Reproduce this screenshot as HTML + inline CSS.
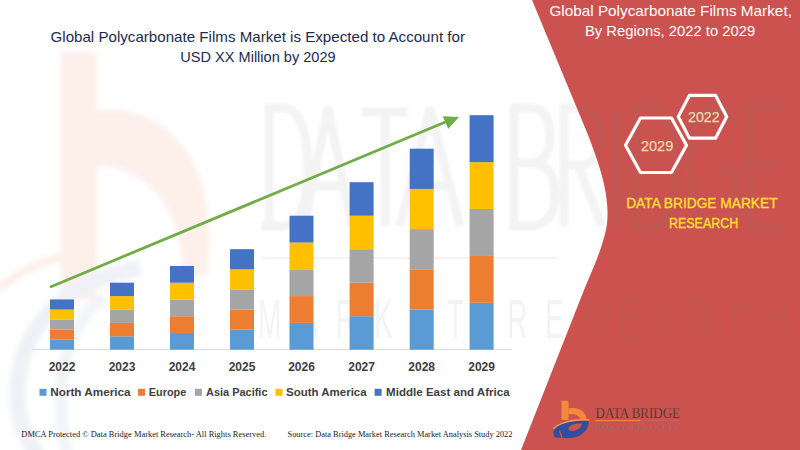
<!DOCTYPE html>
<html><head><meta charset="utf-8"><style>
html,body{margin:0;padding:0;background:#fff;}
#c{position:relative;width:800px;height:450px;overflow:hidden;background:#fff;}
svg{position:absolute;left:0;top:0;}
text{font-family:"Liberation Sans",sans-serif;}
.yr{font-weight:bold;font-size:12px;fill:#404040;}
.lg{font-weight:bold;font-size:11.6px;fill:#404040;}
.ft{font-family:"Liberation Serif",serif;font-size:9px;fill:#1a1a1a;}
</style></head><body><div id="c">
<svg width="800" height="450" viewBox="0 0 800 450">
<!-- watermark logo (left) -->
<defs><filter id="bl1" x="-5%" y="-5%" width="110%" height="110%"><feGaussianBlur stdDeviation="1"/></filter><filter id="bl" x="-20%" y="-20%" width="140%" height="140%"><feGaussianBlur stdDeviation="2.5"/></filter></defs>
<g filter="url(#bl)">
  <path d="M61,52 H97 V300 H61 Z" fill="#FDF0EB"/>
  <path d="M97,110 C160,104 203,150 208,215 C210,240 209,258 208,275 L183,275 C183,215 150,166 97,166 Z" fill="#FDF0EB"/>
  <path d="M140,268 C60,282 12,335 18,405 C20,428 30,445 38,455" fill="none" stroke="#EFF1F6" stroke-width="16"/>
  <path d="M105,298 C70,318 52,375 66,452" fill="none" stroke="#F3F4F8" stroke-width="12"/>
  <path d="M-5,292 C20,270 50,256 95,250" fill="none" stroke="#FDEFE8" stroke-width="8"/>
</g>
<!-- red panel -->
<path d="M532,0 L586,130 C600,165 612,200 606,230 C600,255 590,275 584,290 L521,450 L800,450 L800,0 Z" fill="#CB524E"/>
<!-- watermark text -->
<g fill="none" stroke="#808080" stroke-width="9" opacity="0.085" filter="url(#bl1)">
<path d="M269,108 V226 M265,108 H284 C301,108 308,138 308,167.0 C308,200 301,226 282,226 H262
M304,226 L328,108 L352,226 M312,186 H344
M362,112 H408 M385,112 V226
M400,226 L430,108 L460,226 M411,186 H449
M514,108 V226 M510,108 H530 C545,108 550,120 550,137 C550,154 543,163 530,163 H514 M530,163 C548,163 555,176 555,194 C555,214 547,226 530,226 H510
M564,108 V226 M560,108 H580 C594,108 600,120 600,137 C600,154 594,165 580,165 H564 M578,165 L602,226
M616,108 V226
M636,108 V226 M632,108 H650 C669,108 676,138 676,167.0 C676,200 669,226 650,226 H632
M736,125 C730,112 722,108 713,108 C698,108 690,135 690,167.0 C690,200 698,226 713,226 C722,226 732,220 736,210 V172 H716
M749,108 V226 M745,108 H784 M749,163 H779 M745,226 H784"/>
</g>
<rect x="262" y="257" width="296" height="2" fill="#FCF0EA"/>
<text transform="translate(258,338) scale(0.5,1)" x="0" y="0" font-size="56" fill="#808080" textLength="1060" lengthAdjust="spacing" style="font-family:'Liberation Sans',sans-serif;white-space:pre" opacity="0.085">MARKET RESEARCH</text>
<!-- axis -->
<rect x="32" y="349" width="480" height="1" fill="#D9D9D9"/>
<rect x="50" y="339.65" width="24" height="10.07" fill="#5B9BD5"/><rect x="50" y="329.60" width="24" height="10.07" fill="#ED7D31"/><rect x="50" y="319.55" width="24" height="10.07" fill="#A5A5A5"/><rect x="50" y="309.50" width="24" height="10.07" fill="#FFC000"/><rect x="50" y="299.45" width="24" height="10.07" fill="#4472C4"/><rect x="110" y="336.30" width="24" height="13.42" fill="#5B9BD5"/><rect x="110" y="322.90" width="24" height="13.42" fill="#ED7D31"/><rect x="110" y="309.50" width="24" height="13.42" fill="#A5A5A5"/><rect x="110" y="296.10" width="24" height="13.42" fill="#FFC000"/><rect x="110" y="282.70" width="24" height="13.42" fill="#4472C4"/><rect x="170" y="332.95" width="24" height="16.77" fill="#5B9BD5"/><rect x="170" y="316.20" width="24" height="16.77" fill="#ED7D31"/><rect x="170" y="299.45" width="24" height="16.77" fill="#A5A5A5"/><rect x="170" y="282.70" width="24" height="16.77" fill="#FFC000"/><rect x="170" y="265.95" width="24" height="16.77" fill="#4472C4"/><rect x="230" y="329.60" width="24" height="20.12" fill="#5B9BD5"/><rect x="230" y="309.50" width="24" height="20.12" fill="#ED7D31"/><rect x="230" y="289.40" width="24" height="20.12" fill="#A5A5A5"/><rect x="230" y="269.30" width="24" height="20.12" fill="#FFC000"/><rect x="230" y="249.20" width="24" height="20.12" fill="#4472C4"/><rect x="289.5" y="322.90" width="24" height="26.82" fill="#5B9BD5"/><rect x="289.5" y="296.10" width="24" height="26.82" fill="#ED7D31"/><rect x="289.5" y="269.30" width="24" height="26.82" fill="#A5A5A5"/><rect x="289.5" y="242.50" width="24" height="26.82" fill="#FFC000"/><rect x="289.5" y="215.70" width="24" height="26.82" fill="#4472C4"/><rect x="349.6" y="316.20" width="24" height="33.52" fill="#5B9BD5"/><rect x="349.6" y="282.70" width="24" height="33.52" fill="#ED7D31"/><rect x="349.6" y="249.20" width="24" height="33.52" fill="#A5A5A5"/><rect x="349.6" y="215.70" width="24" height="33.52" fill="#FFC000"/><rect x="349.6" y="182.20" width="24" height="33.52" fill="#4472C4"/><rect x="409.7" y="309.50" width="24" height="40.22" fill="#5B9BD5"/><rect x="409.7" y="269.30" width="24" height="40.22" fill="#ED7D31"/><rect x="409.7" y="229.10" width="24" height="40.22" fill="#A5A5A5"/><rect x="409.7" y="188.90" width="24" height="40.22" fill="#FFC000"/><rect x="409.7" y="148.70" width="24" height="40.22" fill="#4472C4"/><rect x="469.6" y="302.80" width="24" height="46.92" fill="#5B9BD5"/><rect x="469.6" y="255.90" width="24" height="46.92" fill="#ED7D31"/><rect x="469.6" y="209.00" width="24" height="46.92" fill="#A5A5A5"/><rect x="469.6" y="162.10" width="24" height="46.92" fill="#FFC000"/><rect x="469.6" y="115.20" width="24" height="46.92" fill="#4472C4"/>
<!-- arrow -->
<line x1="51" y1="286.7" x2="446" y2="121.8" stroke="#70AD47" stroke-width="2.8" stroke-linecap="round"/>
<polygon points="459,116.9 442.7,116.2 448.3,128.7" fill="#70AD47"/>
<text x="62.0" y="371" text-anchor="middle" class="yr">2022</text><text x="122.0" y="371" text-anchor="middle" class="yr">2023</text><text x="182.0" y="371" text-anchor="middle" class="yr">2024</text><text x="242.0" y="371" text-anchor="middle" class="yr">2025</text><text x="301.5" y="371" text-anchor="middle" class="yr">2026</text><text x="361.6" y="371" text-anchor="middle" class="yr">2027</text><text x="421.7" y="371" text-anchor="middle" class="yr">2028</text><text x="481.6" y="371" text-anchor="middle" class="yr">2029</text>
<rect x="39.5" y="388.8" width="7" height="7" fill="#5B9BD5"/><text x="50.3" y="396" class="lg" textLength="80.3" lengthAdjust="spacingAndGlyphs">North America</text><rect x="138" y="388.8" width="7" height="7" fill="#ED7D31"/><text x="148.8" y="396" class="lg" textLength="37.5" lengthAdjust="spacingAndGlyphs">Europe</text><rect x="195" y="388.8" width="7" height="7" fill="#A5A5A5"/><text x="206" y="396" class="lg" textLength="61.5" lengthAdjust="spacingAndGlyphs">Asia Pacific</text><rect x="275.5" y="388.8" width="7" height="7" fill="#FFC000"/><text x="286" y="396" class="lg" textLength="80.6" lengthAdjust="spacingAndGlyphs">South America</text><rect x="374.6" y="388.8" width="7" height="7" fill="#4472C4"/><text x="386.1" y="396" class="lg" textLength="123.5" lengthAdjust="spacingAndGlyphs">Middle East and Africa</text>
<!-- titles -->
<text x="50.5" y="41.8" font-size="15" fill="#1E2B4D" textLength="414.5" lengthAdjust="spacingAndGlyphs">Global Polycarbonate Films Market is Expected to Account for</text>
<text x="180.3" y="61.9" font-size="15" fill="#1E2B4D" textLength="155.3" lengthAdjust="spacingAndGlyphs">USD XX Million by 2029</text>
<text x="549.4" y="16" font-size="15" fill="#ffffff" textLength="242.5" lengthAdjust="spacingAndGlyphs">Global Polycarbonate Films Market,</text>
<text x="585" y="35.6" font-size="15" fill="#ffffff" textLength="170.1" lengthAdjust="spacingAndGlyphs">By Regions, 2022 to 2029</text>
<!-- hexagons -->
<polygon points="625.5,145.2 640.5,118 671.5,118 686.5,145.2 671.5,172.5 640.5,172.5" fill="none" stroke="#ffffff" stroke-width="3.2" stroke-linejoin="round"/>
<polygon points="678.3,116.75 689.5,95.3 715.5,95.3 726.7,116.75 715.5,138.2 689.5,138.2" fill="none" stroke="#ffffff" stroke-width="3.2" stroke-linejoin="round"/>
<text x="641" y="150.7" font-size="15" fill="#EADCAF" stroke="#EADCAF" stroke-width="0.25" textLength="32.2" lengthAdjust="spacingAndGlyphs">2029</text>
<text x="688" y="121.8" font-size="14" fill="#EADCAF" stroke="#EADCAF" stroke-width="0.25" textLength="31.6" lengthAdjust="spacingAndGlyphs">2022</text>
<text x="626.2" y="208.2" font-size="14" fill="#FFE030" stroke="#FFE030" stroke-width="0.3" textLength="151.4" lengthAdjust="spacingAndGlyphs">DATA BRIDGE MARKET</text>
<text x="669" y="228.3" font-size="14.4" fill="#FFE030" stroke="#FFE030" stroke-width="0.3" textLength="69.2" lengthAdjust="spacingAndGlyphs">RESEARCH</text>
<!-- footer -->
<text x="21.3" y="437" class="ft" textLength="245" lengthAdjust="spacingAndGlyphs">DMCA Protected © Data Bridge Market Research- All Rights Reserved.</text>
<text x="287.5" y="437" class="ft" textLength="225" lengthAdjust="spacingAndGlyphs">Source: Data Bridge Market Research Market Analysis Study 2022</text>
<!-- logo -->
<g>
  <path d="M561.5,400.7 H568.5 V420 H561.5 Z" fill="#F5893A"/>
  <path d="M568.5,408.5 C578,406.5 586,411 586.5,419.5 L580.5,419.5 C580,415.5 575,413.5 568.5,414.5 Z" fill="#F5893A"/>
  <path d="M553,428 C562,421 576,418 590,419.5 L589,420.8 C576,420 563,423 555,430 Z" fill="#F39A5A"/>
  <path fill-rule="evenodd" d="M555,437.5 C552,433 553,429 558,426 C566,421.5 580,420 589,421 C588.5,427 586,432 580,435.5 C574,438.5 566,438.5 561,437.8 Z M568.5,428.5 C569,425 575,423.2 582,423.5 C581.5,427.5 578,430.5 572,431 C569.5,431.2 568.3,430 568.5,428.5 Z" fill="#2E4F9E"/>
  <path d="M559.5,430.5 L561.8,437.5" stroke="#C4584E" stroke-width="1.3"/>
  <text x="595.6" y="417.5" font-size="14.4" fill="#3a3631" stroke="#CB524E" stroke-width="0.25" textLength="84.4" lengthAdjust="spacingAndGlyphs" style="font-family:'Liberation Serif',serif">DATA BRIDGE</text>
  <rect x="595.6" y="420" width="44.4" height="1.1" fill="#F08A3C"/>
  <rect x="640" y="420" width="40" height="0.8" fill="#b87068"/>
  <text x="596" y="429" font-size="6" font-weight="bold" fill="#946a66" textLength="30" lengthAdjust="spacing" style="font-family:'Liberation Sans',sans-serif">MARKET</text>
  <text x="632" y="429" font-size="6" font-weight="bold" fill="#946a66" textLength="48" lengthAdjust="spacing" style="font-family:'Liberation Sans',sans-serif">RESEARCH</text>
</g>
</svg>
</div></body></html>
